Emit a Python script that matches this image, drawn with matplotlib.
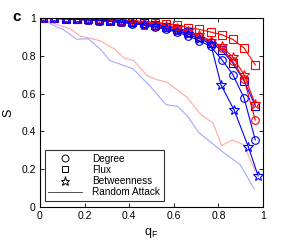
import matplotlib
matplotlib.use("Agg")
import matplotlib.pyplot as plt
from matplotlib.lines import Line2D

plt.rcParams['font.family'] = ['Liberation Sans', 'DejaVu Sans']

# ---- data ----
x_base = [0.015, 0.065, 0.115, 0.165, 0.215, 0.265, 0.315, 0.365, 0.415, 0.465,
          0.515, 0.565, 0.615, 0.665, 0.715, 0.765, 0.815, 0.865, 0.915, 0.965]
x_bet_blue = [0.015, 0.065, 0.115, 0.165, 0.215, 0.265, 0.315, 0.365, 0.415, 0.465,
              0.515, 0.565, 0.615, 0.665, 0.715, 0.765, 0.812, 0.870, 0.934, 0.978]

deg_red = [1.0, 0.998, 0.995, 0.993, 0.99, 0.987, 0.983, 0.979, 0.974, 0.968,
           0.96, 0.95, 0.937, 0.92, 0.90, 0.875, 0.84, 0.77, 0.675, 0.46]
deg_blue = [1.0, 0.998, 0.996, 0.993, 0.99, 0.986, 0.982, 0.977, 0.971, 0.963,
            0.953, 0.94, 0.925, 0.905, 0.88, 0.85, 0.78, 0.70, 0.576, 0.355]
flux_red = [1.0, 0.999, 0.998, 0.996, 0.995, 0.993, 0.991, 0.989, 0.986, 0.982,
            0.976, 0.969, 0.965, 0.949, 0.94, 0.926, 0.912, 0.887, 0.841, 0.752]
flux_blue = [1.0, 0.999, 0.997, 0.995, 0.993, 0.99, 0.987, 0.983, 0.978, 0.972,
             0.965, 0.955, 0.943, 0.925, 0.90, 0.87, 0.83, 0.76, 0.668, 0.535]
bet_red = [1.0, 0.999, 0.997, 0.995, 0.993, 0.99, 0.987, 0.984, 0.979, 0.973,
           0.966, 0.957, 0.945, 0.93, 0.91, 0.88, 0.85, 0.793, 0.70, 0.544]
bet_blue = [1.0, 0.998, 0.996, 0.993, 0.99, 0.987, 0.983, 0.978, 0.972, 0.965,
            0.956, 0.945, 0.93, 0.915, 0.89, 0.865, 0.645, 0.514, 0.318, 0.164]

rand_red_x = [0.0, 0.09, 0.135, 0.18, 0.27, 0.335, 0.375, 0.42, 0.48, 0.52, 0.57,
              0.66, 0.72, 0.775, 0.815, 0.862, 0.912, 0.965]
rand_red_y = [1.0, 0.96, 0.944, 0.905, 0.88, 0.835, 0.79, 0.775, 0.695, 0.675, 0.66,
              0.58, 0.49, 0.445, 0.325, 0.354, 0.33, 0.19]
rand_blue_x = [0.0, 0.08, 0.104, 0.165, 0.217, 0.269, 0.314, 0.418, 0.493, 0.566,
               0.618, 0.663, 0.71, 0.815, 0.897, 0.961]
rand_blue_y = [1.0, 0.95, 0.94, 0.888, 0.89, 0.837, 0.775, 0.731, 0.64, 0.541,
               0.532, 0.479, 0.396, 0.295, 0.224, 0.094]

xticks = [0, 0.2, 0.4, 0.6, 0.8, 1]
yticks = [0, 0.2, 0.4, 0.6, 0.8, 1]
xtick_labels = ['0', '0.2', '0.4', '0.6', '0.8', '1']
ytick_labels = ['0', '0.2', '0.4', '0.6', '0.8', '1']

# ---- plot ----
fig = plt.figure(figsize=(2.91, 2.44), dpi=100)
ax = fig.add_axes([0.137, 0.152, 0.767, 0.774])

RED = (1, 0, 0)
BLUE = (0, 0, 1)
lw = 0.8
ms = 5.5

ax.plot(rand_red_x, rand_red_y, color=RED, lw=0.8, alpha=0.35)
ax.plot(rand_blue_x, rand_blue_y, color=BLUE, lw=0.8, alpha=0.35)

def series(x, y, color, marker, size=ms):
    ax.plot(x, y, color=color, lw=lw, marker=marker, markersize=size,
            markerfacecolor='none', markeredgecolor=color, markeredgewidth=0.8)

series(x_base, flux_red, RED, 's')
series(x_base, flux_blue, BLUE, 's')
series(x_base, deg_red, RED, 'o')
series(x_base, deg_blue, BLUE, 'o')
series(x_base, bet_red, RED, '*', ms + 1.5)
series(x_bet_blue, bet_blue, BLUE, '*', ms + 1.5)

ax.set_xlim(0, 1)
ax.set_ylim(0, 1)
ax.set_xticks(xticks)
ax.set_xticklabels(xtick_labels)
ax.set_yticks(yticks)
ax.set_yticklabels(ytick_labels)
ax.tick_params(direction='in', top=True, right=True, labelsize=7.5, length=3, width=0.6, pad=3)
for s in ax.spines.values():
    s.set_linewidth(0.8)

ax.set_xlabel(r'q$_\mathregular{F}$', fontsize=9, labelpad=3.5)
ax.set_ylabel('S', fontsize=9, labelpad=5)

fig.text(0.042, 0.93, 'c', fontsize=11, fontweight='bold', ha='left', va='center')

handles = [
    Line2D([], [], marker='o', color='k', linestyle='none', markerfacecolor='none', markersize=5, markeredgewidth=0.7),
    Line2D([], [], marker='s', color='k', linestyle='none', markerfacecolor='none', markersize=4.5, markeredgewidth=0.7),
    Line2D([], [], marker='*', color='k', linestyle='none', markerfacecolor='none', markersize=6.5, markeredgewidth=0.7),
    Line2D([], [], color='k', lw=0.6, alpha=0.8),
]
labels = ['Degree', 'Flux', 'Betweenness', 'Random Attack']
leg = ax.legend(handles, labels, loc='lower left', bbox_to_anchor=(0.022, 0.032),
                borderaxespad=0, fontsize=7.2, frameon=True, fancybox=False,
                handlelength=3.4, handletextpad=1.0, labelspacing=0.12,
                borderpad=0.35)
leg.get_frame().set_edgecolor('k')
leg.get_frame().set_linewidth(0.8)

fig.savefig('out.png', dpi=100)
